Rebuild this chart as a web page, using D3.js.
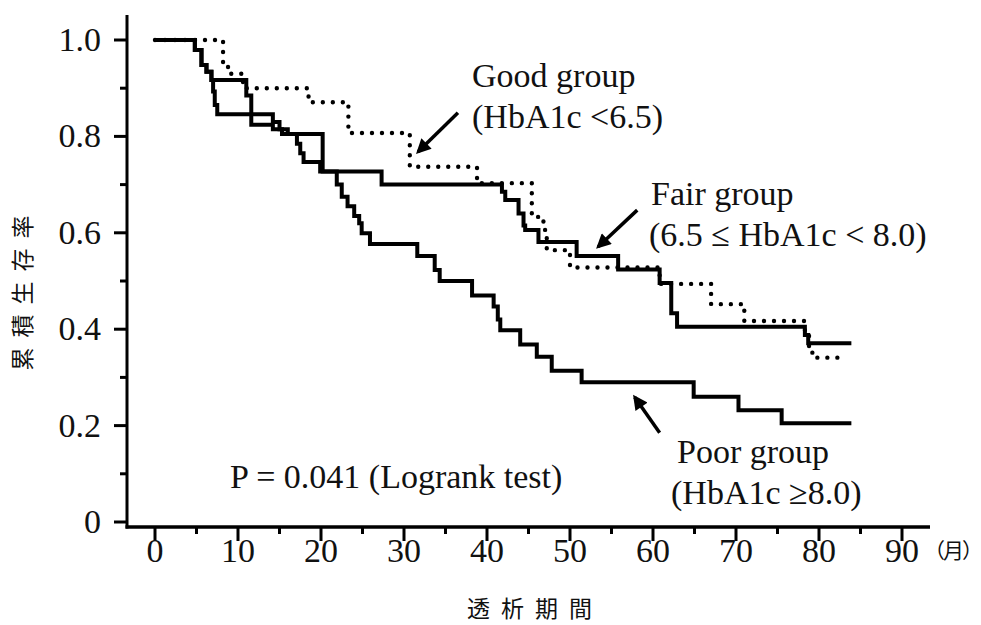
<!DOCTYPE html>
<html>
<head>
<meta charset="utf-8">
<script src="https://cdn.jsdelivr.net/npm/d3@7"></script>
<style>
  body { margin: 0; background: #fff; }
  text { fill: #111; }
</style>
</head>
<body>
<div id="chart"></div>
<script>
var svgWidth = 981;
var svgHeight = 625;

// months and cumulative survival after each step
var goodMonths = [0, 8.2, 8.8, 10.6, 18.5, 23.3, 30.7, 38.8, 45.4, 46.8, 47.2, 50.0, 60.8, 67.0, 71.0, 78.3, 78.8, 79.2, 83.3];
var goodSurv   = [1.0, 0.945, 0.93, 0.90, 0.871, 0.807, 0.737, 0.703, 0.633, 0.606, 0.564, 0.528, 0.494, 0.452, 0.417, 0.39, 0.36, 0.341, 0.341];

var fairMonths = [0, 4.8, 5.6, 6.2, 6.8, 11.0, 11.6, 14.2, 15.3, 20.2, 27.3, 41.8, 42.2, 43.8, 44.4, 44.6, 46.2, 50.8, 55.8, 60.8, 62.2, 62.9, 78.3, 78.7, 83.9];
var fairSurv   = [1.0, 0.979, 0.948, 0.934, 0.917, 0.885, 0.824, 0.815, 0.805, 0.727, 0.70, 0.685, 0.668, 0.64, 0.615, 0.606, 0.581, 0.552, 0.524, 0.496, 0.433, 0.405, 0.388, 0.371, 0.371];

var poorMonths = [0, 4.8, 5.6, 6.2, 6.8, 7.0, 7.2, 7.5, 14.2, 15.0, 16.0, 17.1, 17.5, 17.9, 19.9, 21.9, 22.5, 23.2, 24.0, 24.6, 24.9, 25.9, 31.6, 33.7, 34.3, 38.2, 40.8, 41.3, 41.6, 44.0, 46.0, 47.8, 51.4, 64.9, 70.3, 75.5, 83.9];
var poorSurv   = [1.0, 0.979, 0.948, 0.934, 0.917, 0.893, 0.865, 0.846, 0.83, 0.815, 0.805, 0.785, 0.765, 0.747, 0.727, 0.70, 0.675, 0.655, 0.635, 0.62, 0.599, 0.577, 0.552, 0.523, 0.50, 0.47, 0.447, 0.42, 0.398, 0.368, 0.343, 0.314, 0.29, 0.26, 0.232, 0.205, 0.205];

var xTicks = [0, 10, 20, 30, 40, 50, 60, 70, 80, 90];
var xMinor = [5, 15, 25, 35, 45, 55, 65, 75, 85];
var yTicks = [0, 0.2, 0.4, 0.6, 0.8, 1.0];
var yMinor = [0.1, 0.3, 0.5, 0.7, 0.9];

var svg = d3.select("#chart")
    .append("svg")
    .attr("width", svgWidth)
    .attr("height", svgHeight);

var x = d3.scaleLinear().domain([0, 90]).range([155, 902]);
var y = d3.scaleLinear().domain([0, 1]).range([522, 40]);

var serif = "'Liberation Serif', 'Times New Roman', serif";
var cjk = "'Noto Sans CJK JP', 'Noto Sans CJK SC', sans-serif";

// axes lines
var axisX = 127, axisY = 527;
svg.append("line")
    .attr("x1", axisX).attr("x2", axisX)
    .attr("y1", 15).attr("y2", axisY + 1.5)
    .attr("stroke", "#000").attr("stroke-width", 3);
svg.append("line")
    .attr("x1", axisX - 1.5).attr("x2", 930)
    .attr("y1", axisY).attr("y2", axisY)
    .attr("stroke", "#000").attr("stroke-width", 3.5);

// y ticks
svg.selectAll(".ytick").data(yTicks).enter().append("line")
    .attr("x1", axisX - 13).attr("x2", axisX)
    .attr("y1", d => y(d)).attr("y2", d => y(d))
    .attr("stroke", "#000").attr("stroke-width", 3);
svg.selectAll(".yminor").data(yMinor).enter().append("line")
    .attr("x1", axisX - 7).attr("x2", axisX)
    .attr("y1", d => y(d)).attr("y2", d => y(d))
    .attr("stroke", "#000").attr("stroke-width", 3);
svg.selectAll(".ylab").data(yTicks).enter().append("text")
    .attr("x", 101)
    .attr("y", d => y(d) + 11)
    .attr("text-anchor", "end")
    .style("font-family", serif)
    .style("font-size", "34px")
    .text(d => d === 0 ? "0" : d.toFixed(1));

// x ticks
svg.selectAll(".xtick").data(xTicks).enter().append("line")
    .attr("x1", d => x(d)).attr("x2", d => x(d))
    .attr("y1", axisY).attr("y2", axisY + 14)
    .attr("stroke", "#000").attr("stroke-width", 3);
svg.selectAll(".xminor").data(xMinor).enter().append("line")
    .attr("x1", d => x(d)).attr("x2", d => x(d))
    .attr("y1", axisY).attr("y2", axisY + 7)
    .attr("stroke", "#000").attr("stroke-width", 3);
svg.selectAll(".xlab").data(xTicks).enter().append("text")
    .attr("x", d => x(d))
    .attr("y", 562)
    .attr("text-anchor", "middle")
    .style("font-family", serif)
    .style("font-size", "34px")
    .text(d => d);

svg.append("text")
    .attr("x", 981).attr("y", 558)
    .attr("text-anchor", "end")
    .style("font-family", cjk)
    .style("font-size", "21px")
    .style("letter-spacing", "-2px")
    .text("（月）");

// axis titles
svg.append("text")
    .attr("x", 535).attr("y", 617)
    .attr("text-anchor", "middle")
    .style("font-family", cjk)
    .style("font-size", "23px")
    .style("letter-spacing", "11px")
    .text("透析期間");

svg.append("text")
    .attr("transform", "translate(31, 288) rotate(-90)")
    .attr("text-anchor", "middle")
    .style("font-family", cjk)
    .style("font-size", "23px")
    .style("letter-spacing", "10px")
    .text("累積生存率");

// survival curves
var line = d3.line()
    .x(d => x(d[0]))
    .y(d => y(d[1]))
    .curve(d3.curveStepAfter);

function pairs(ms, ss) {
    return ms.map((m, i) => [m, ss[i]]);
}

svg.append("path")
    .datum(pairs(poorMonths, poorSurv))
    .attr("d", line)
    .attr("fill", "none")
    .attr("stroke", "#000")
    .attr("stroke-width", 4);

svg.append("path")
    .datum(pairs(fairMonths, fairSurv))
    .attr("d", line)
    .attr("fill", "none")
    .attr("stroke", "#000")
    .attr("stroke-width", 4);

svg.append("path")
    .datum(pairs(goodMonths, goodSurv))
    .attr("d", line)
    .attr("fill", "none")
    .attr("stroke", "#000")
    .attr("stroke-width", 4.4)
    .attr("stroke-linecap", "round")
    .attr("stroke-dasharray", "0 10");

// arrows (tail -> head in data units)
svg.append("defs").append("marker")
    .attr("id", "head")
    .attr("viewBox", "0 0 10 10")
    .attr("refX", 8).attr("refY", 5)
    .attr("markerWidth", 4.5).attr("markerHeight", 4.2)
    .attr("markerUnits", "strokeWidth")
    .attr("orient", "auto")
    .append("path")
    .attr("d", "M0,0 L10,5 L0,10 Z")
    .attr("fill", "#000");

var arrows = [
    [[36.5, 0.849], [31.7, 0.768]],
    [[58.1, 0.647], [53.4, 0.571]],
    [[60.8, 0.185], [57.8, 0.259]]
];
svg.selectAll(".arrow").data(arrows).enter().append("line")
    .attr("x1", d => x(d[0][0])).attr("y1", d => y(d[0][1]))
    .attr("x2", d => x(d[1][0])).attr("y2", d => y(d[1][1]))
    .attr("stroke", "#000")
    .attr("stroke-width", 3.5)
    .attr("marker-end", "url(#head)");

// annotations
var notes = [
    ["Good group", 472, 87],
    ["(HbA1c <6.5)", 472, 128],
    ["Fair group", 651, 205],
    ["(6.5 \u2264 HbA1c < 8.0)", 649, 246],
    ["Poor group", 677, 463],
    ["(HbA1c \u22658.0)", 671, 504],
    ["P = 0.041 (Logrank test)", 230, 488]
];
svg.selectAll(".note").data(notes).enter().append("text")
    .attr("x", d => d[1]).attr("y", d => d[2])
    .style("font-family", serif)
    .style("font-size", "34px")
    .text(d => d[0]);
</script>
</body>
</html>
